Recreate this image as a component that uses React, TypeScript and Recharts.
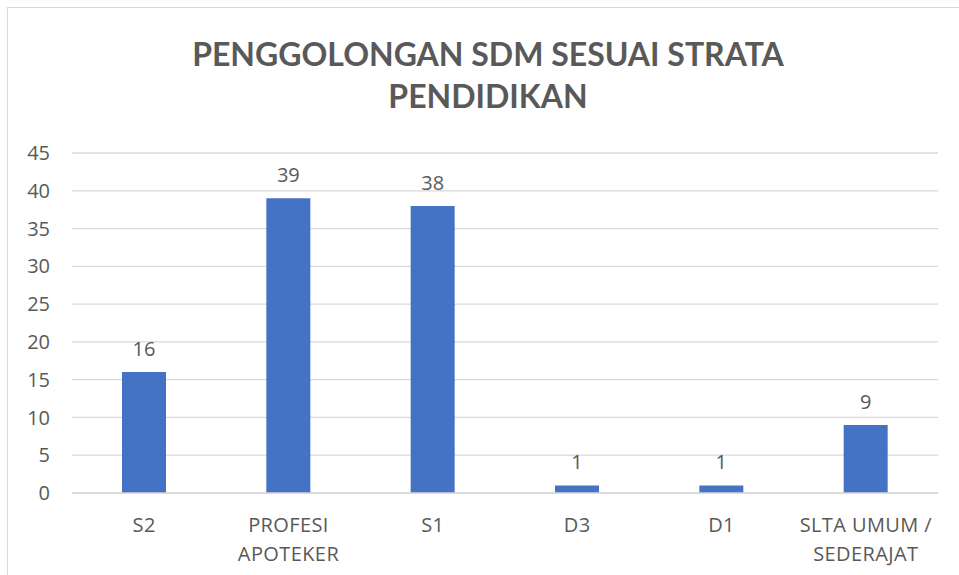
import React from 'react';
import { BarChart, Bar, XAxis, YAxis, CartesianGrid, LabelList } from 'recharts';

const categories = ['S2', 'PROFESI\nAPOTEKER', 'S1', 'D3', 'D1', 'SLTA UMUM /\nSEDERAJAT'];
const values = [16, 39, 38, 1, 1, 9];
const yTicks = [0, 5, 10, 15, 20, 25, 30, 35, 40, 45];
const titleLines = ['PENGGOLONGAN SDM SESUAI STRATA', 'PENDIDIKAN'];

const data = categories.map((c, i) => ({ name: c, value: values[i] }));

const FONT = '"Open Sans", Lato, sans-serif';
const TFONT = 'Lato, "Open Sans", sans-serif';
const GRAY = '#595959';
const FS = 20;

const XTick = (props: any) => {
  const { x, y, payload } = props;
  const lines = String(payload.value).split('\n');
  return (
    <text x={x} y={y} textAnchor="middle" fill={GRAY} fontSize={FS} fontFamily={FONT} letterSpacing={0.4}>
      {lines.map((l: string, i: number) => (
        <tspan key={i} x={x} dy={i === 0 ? 31 : 29}>{l}</tspan>
      ))}
    </text>
  );
};

export default function App() {
  return (
    <div style={{ position: 'absolute', left: 0, top: 0, width: 959, height: 575, background: '#fff', overflow: 'hidden' }}>
      <div style={{ position: 'absolute', left: 7, top: 7, width: 1000, height: 1000, border: '1.5px solid #d9d9d9', boxSizing: 'border-box' }} />
      <div style={{ position: 'absolute', left: 0, width: 976, top: 33, textAlign: 'center', fontFamily: TFONT, fontWeight: 'bold', fontSize: 32, color: GRAY, lineHeight: '42px' }}>
        {titleLines.map((t, i) => <div key={i}>{t}</div>)}
      </div>
      <div style={{ position: 'absolute', left: 0, top: 0 }}>
        <BarChart width={959} height={575} data={data} margin={{ top: 153, right: 21, left: 0, bottom: 52 }}>
          <CartesianGrid vertical={false} stroke="#d9d9d9" strokeWidth={1.3} />
          <XAxis dataKey="name" interval={0} tick={<XTick />} tickLine={false} axisLine={{ stroke: '#d9d9d9', strokeWidth: 1.3 }} />
          <YAxis width={72} domain={[0, 45]} ticks={yTicks} interval={0} tickLine={false} axisLine={false} tickSize={0} tickMargin={22}
            tick={{ fill: GRAY, fontSize: FS, fontFamily: FONT }} />
          <Bar dataKey="value" fill="#4472C4" barSize={44} isAnimationActive={false}>
            <LabelList dataKey="value" position="top" offset={16} fill={GRAY} fontSize={FS} fontFamily={FONT} />
          </Bar>
        </BarChart>
      </div>
    </div>
  );
}
